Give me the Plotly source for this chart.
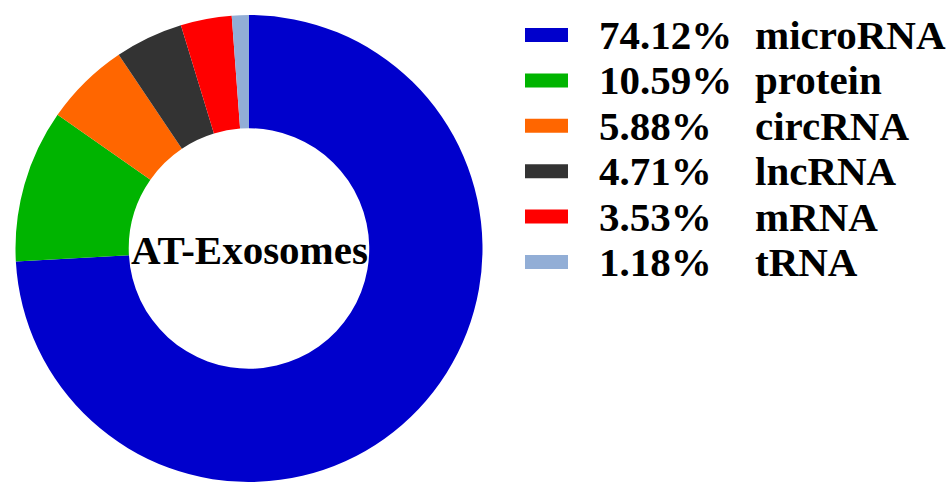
import plotly.graph_objects as go

labels = ["microRNA", "protein", "circRNA", "lncRNA", "mRNA", "tRNA"]
percents = [74.12, 10.59, 5.88, 4.71, 3.53, 1.18]
colors = ["#0000CC", "#00B400", "#FF6600", "#333333", "#FF0000", "#92AED6"]
center_label = "AT-Exosomes"

W, H = 947, 482
FONT = "Liberation Serif"
FS = 41

fig = go.Figure()
fig.add_trace(go.Pie(
    labels=labels,
    values=percents,
    sort=False,
    direction="clockwise",
    rotation=0,
    hole=0.515,
    textinfo="none",
    hoverinfo="label+percent",
    marker=dict(colors=colors, line=dict(width=0)),
    showlegend=False,
    domain=dict(x=[15.5 / W, 482.5 / W], y=[0, 467 / H]),
))

# center label
fig.add_annotation(
    text=f"<b>{center_label}</b>", x=249 / W, y=1 - 250 / H, xref="paper", yref="paper",
    showarrow=False, xanchor="center", yanchor="middle",
    font=dict(family=FONT, size=FS, color="black"),
)

# custom legend
row0, dy = 35, 45.4
for i, (lab, p, c) in enumerate(zip(labels, percents, colors)):
    cy = row0 + dy * i
    yp = 1 - cy / H
    fig.add_shape(type="rect", xref="paper", yref="paper",
                  x0=525 / W, x1=568 / W, y0=1 - (cy + 7) / H, y1=1 - (cy - 7) / H,
                  fillcolor=c, line=dict(width=0))
    fig.add_annotation(text=f"<b>{p:.2f}%</b>", x=597 / W, y=yp, xref="paper", yref="paper",
                       showarrow=False, xanchor="left", yanchor="middle",
                       font=dict(family=FONT, size=FS, color="black"))
    fig.add_annotation(text=f"<b>{lab}</b>", x=753 / W, y=yp, xref="paper", yref="paper",
                       showarrow=False, xanchor="left", yanchor="middle",
                       font=dict(family=FONT, size=FS, color="black"))

fig.update_layout(
    width=W, height=H,
    margin=dict(l=0, r=0, t=0, b=0),
    paper_bgcolor="white", plot_bgcolor="white",
)

fig.write_html("out.html")
